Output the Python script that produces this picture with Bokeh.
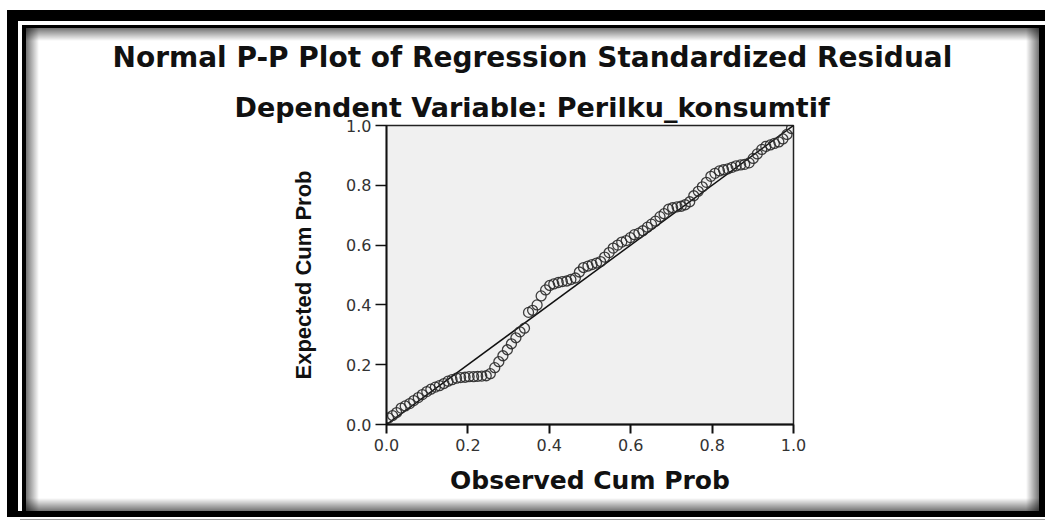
from bokeh.plotting import figure
from bokeh.models import Range1d, FixedTicker, PrintfTickFormatter, Title, ColumnDataSource
from bokeh.embed import file_html
from bokeh.resources import INLINE

# ---------------- data ----------------
observed = [0.005, 0.015, 0.025, 0.036, 0.046, 0.057, 0.067, 0.078, 0.088, 0.099,
            0.109, 0.120, 0.130, 0.141, 0.151, 0.161, 0.172, 0.182, 0.193, 0.203,
            0.214, 0.224, 0.234, 0.245, 0.255, 0.266, 0.276, 0.286, 0.297, 0.307,
            0.318, 0.328, 0.339, 0.349, 0.359, 0.370, 0.380, 0.391, 0.401, 0.411,
            0.422, 0.432, 0.443, 0.453, 0.464, 0.474, 0.484, 0.495, 0.505, 0.516,
            0.526, 0.536, 0.547, 0.557, 0.568, 0.578, 0.589, 0.599, 0.609, 0.620,
            0.630, 0.641, 0.651, 0.661, 0.672, 0.682, 0.693, 0.703, 0.714, 0.724,
            0.734, 0.745, 0.755, 0.766, 0.776, 0.786, 0.797, 0.807, 0.818, 0.828,
            0.839, 0.849, 0.859, 0.870, 0.880, 0.891, 0.901, 0.911, 0.922, 0.932,
            0.943, 0.953, 0.964, 0.974, 0.984, 0.995]
expected = [0.022, 0.030, 0.040, 0.055, 0.062, 0.070, 0.080, 0.090, 0.100, 0.110,
            0.118, 0.125, 0.130, 0.137, 0.145, 0.150, 0.155, 0.157, 0.158, 0.160,
            0.160, 0.161, 0.162, 0.163, 0.170, 0.190, 0.210, 0.230, 0.250, 0.270,
            0.290, 0.310, 0.322, 0.375, 0.382, 0.400, 0.430, 0.450, 0.465, 0.470,
            0.475, 0.478, 0.480, 0.485, 0.490, 0.510, 0.525, 0.530, 0.535, 0.540,
            0.545, 0.560, 0.575, 0.590, 0.600, 0.610, 0.615, 0.625, 0.635, 0.640,
            0.648, 0.660, 0.670, 0.680, 0.695, 0.705, 0.720, 0.725, 0.728, 0.730,
            0.735, 0.745, 0.765, 0.780, 0.795, 0.810, 0.830, 0.840, 0.848, 0.852,
            0.855, 0.860, 0.865, 0.868, 0.870, 0.875, 0.890, 0.905, 0.920, 0.930,
            0.935, 0.940, 0.945, 0.955, 0.970, 0.990]
diag_x = [0.0, 1.0]
diag_y = [0.0, 1.0]
ticks = [0.0, 0.2, 0.4, 0.6, 0.8, 1.0]
title_line1 = "Normal P-P Plot of Regression Standardized Residual"
title_line2 = "Dependent Variable: Perilku_konsumtif"
x_label = "Observed Cum Prob"
y_label = "Expected Cum Prob"

# ---------------- layout ----------------
W, H = 1045, 521
FL, FR, FT, FB = 386, 793, 125, 424   # frame edges in canvas pixels

p = figure(width=W, height=H, output_backend="svg", toolbar_location=None,
           x_range=Range1d(0, 1), y_range=Range1d(0, 1),
           min_border_left=FL, min_border_right=W - FR,
           min_border_top=FT, min_border_bottom=H - FB)
p.title.text = ""
p.background_fill_color = "#f0f0f0"
p.border_fill_color = None
p.outline_line_color = "#222222"
p.outline_line_width = 1.5
p.grid.visible = False

for ax in (p.xaxis[0], p.yaxis[0]):
    ax.ticker = FixedTicker(ticks=ticks)
    ax.formatter = PrintfTickFormatter(format="%.1f")
    ax.minor_tick_line_color = None
    ax.major_tick_in = 0
    ax.axis_line_color = "#111111"
    ax.axis_line_width = 1.8
    ax.major_tick_line_color = "#111111"
    ax.major_label_text_font = "DejaVu Sans"
    ax.major_label_text_font_size = "16px"
    ax.major_label_text_color = "#333333"
    ax.axis_label_text_font_style = "bold"
    ax.axis_label_text_color = "#111111"

p.xaxis.major_tick_out = 9
p.xaxis.major_tick_line_width = 2
p.xaxis.major_label_standoff = 5
p.xaxis.axis_label = x_label
p.xaxis.axis_label_text_font = "DejaVu Sans"
p.xaxis.axis_label_text_font_size = "25px"
p.xaxis.axis_label_standoff = 12

p.yaxis.major_tick_out = 11
p.yaxis.major_tick_line_width = 1.5
p.yaxis.major_label_standoff = 4
p.yaxis.axis_label = y_label
p.yaxis.axis_label_text_font = "Liberation Sans"
p.yaxis.axis_label_text_font_size = "22px"
p.yaxis.axis_label_standoff = 27

# diagonal reference line and points
p.line(diag_x, diag_y, line_color="#111111", line_width=1.5)
src = ColumnDataSource(dict(x=observed, y=expected))
p.scatter("x", "y", source=src, size=10, marker="circle", fill_color=None,
          line_color="#2a2a2a", line_width=1.3, line_alpha=0.9)

# two-line heading, centred on the whole panel (x ~ 532)
t2 = Title(text=title_line2, align="left", offset=-152, standoff=6,
           text_font="DejaVu Sans", text_font_style="bold",
           text_font_size="27px", text_color="#111111")
t1 = Title(text=title_line1, align="left", offset=-274, standoff=26,
           text_font="DejaVu Sans", text_font_style="bold",
           text_font_size="28px", text_color="#111111")
p.add_layout(t2, "above")
p.add_layout(t1, "above")

# decorative SPSS-style frame drawn as the host element's background
SOLID = "linear-gradient(#000,#000)"
layers = [
    # (x, y, w, h, image)
    (7, 10, 11, 507, SOLID),                 # outer left
    (7, 10, 1038, 11, SOLID),                # outer top
    (7, 511, 1038, 6, SOLID),                # bottom
    (22, 25, 4, 486, SOLID),                 # inner left
    (22, 25, 1023, 3, SOLID),                # inner top
    (1039, 25, 6, 492, SOLID),               # right
    (20, 519, 1025, 1, "linear-gradient(#a0a0a0,#a0a0a0)"),
    (26, 28, 13, 483, "linear-gradient(to right, rgba(0,0,0,0.55), rgba(0,0,0,0))"),
    (26, 28, 1013, 13, "linear-gradient(to bottom, rgba(0,0,0,0.55), rgba(0,0,0,0))"),
    (1026, 28, 13, 483, "linear-gradient(to left, rgba(0,0,0,0.55), rgba(0,0,0,0))"),
    (26, 498, 1013, 13, "linear-gradient(to top, rgba(0,0,0,0.55), rgba(0,0,0,0))"),
]
p.styles = {
    "background-color": "white",
    "background-image": ", ".join(l[4] for l in layers),
    "background-position": ", ".join(f"{l[0]}px {l[1]}px" for l in layers),
    "background-size": ", ".join(f"{l[2]}px {l[3]}px" for l in layers),
    "background-repeat": "no-repeat",
}

open("out.html", "w").write(file_html(p, INLINE))
